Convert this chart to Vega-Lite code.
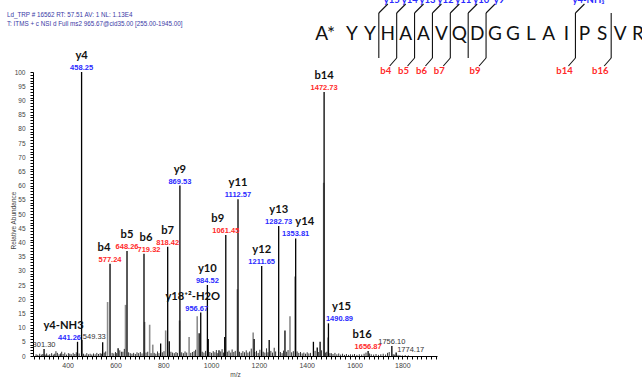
{
  "$schema": "https://vega.github.io/schema/vega-lite/v6.json",
  "width": 404,
  "height": 284,
  "autosize": "none",
  "padding": {"left": 33, "top": 72, "right": 205, "bottom": 25},
  "background": "white",
  "config": {"view": {"stroke": null}},
  "datasets": {
    "main": [
      {"mz": 301.3, "int": 2.5}, {"mz": 441.26, "int": 5.0}, {"mz": 458.25, "int": 100}, {"mz": 459.3, "int": 5.6},
      {"mz": 546.5, "int": 4.8}, {"mz": 577.24, "int": 32.5}, {"mz": 611, "int": 2.7}, {"mz": 648.26, "int": 37},
      {"mz": 719.32, "int": 36}, {"mz": 789, "int": 4.4}, {"mz": 818.42, "int": 38.5}, {"mz": 825, "int": 5.2},
      {"mz": 869.53, "int": 60}, {"mz": 950, "int": 8}, {"mz": 956.67, "int": 15.3}, {"mz": 984.52, "int": 25},
      {"mz": 988, "int": 6}, {"mz": 1033, "int": 2}, {"mz": 1057, "int": 6.7}, {"mz": 1061.45, "int": 42.6},
      {"mz": 1112.57, "int": 55.2}, {"mz": 1180, "int": 6}, {"mz": 1211.65, "int": 31.7}, {"mz": 1243, "int": 5.6},
      {"mz": 1282.73, "int": 45.8}, {"mz": 1309, "int": 9}, {"mz": 1353.81, "int": 41.4}, {"mz": 1428, "int": 5},
      {"mz": 1444, "int": 3}, {"mz": 1456, "int": 5}, {"mz": 1472.73, "int": 93}, {"mz": 1490.89, "int": 11.5},
      {"mz": 1656.87, "int": 1.8}, {"mz": 1756.1, "int": 3.5}, {"mz": 1774.17, "int": 1.2}
    ],
    "gray": [
      {"mz": 567, "int": 19}, {"mz": 642, "int": 18}, {"mz": 722, "int": 12}, {"mz": 743, "int": 11},
      {"mz": 756, "int": 4}, {"mz": 810, "int": 9}, {"mz": 868, "int": 12.5}, {"mz": 908, "int": 6.7},
      {"mz": 942, "int": 14}, {"mz": 1110, "int": 23.5}, {"mz": 1176, "int": 8.3}, {"mz": 1330, "int": 14},
      {"mz": 1351, "int": 28}, {"mz": 1471, "int": 61}, {"mz": 1489, "int": 6.5}
    ],
    "noise": [
      {"mz": 268, "int": 0.6}, {"mz": 275, "int": 0.4}, {"mz": 283, "int": 0.8}, {"mz": 290, "int": 0.5}, {"mz": 296, "int": 0.7},
      {"mz": 306, "int": 0.5}, {"mz": 312, "int": 0.9}, {"mz": 318, "int": 0.4}, {"mz": 325, "int": 0.6}, {"mz": 333, "int": 1.0},
      {"mz": 340, "int": 0.5}, {"mz": 346, "int": 0.8}, {"mz": 351, "int": 1.7}, {"mz": 357, "int": 1.1}, {"mz": 364, "int": 0.6},
      {"mz": 370, "int": 0.9}, {"mz": 375, "int": 1.5}, {"mz": 381, "int": 0.7}, {"mz": 388, "int": 1.2}, {"mz": 395, "int": 0.5},
      {"mz": 403, "int": 1.0}, {"mz": 409, "int": 0.8}, {"mz": 415, "int": 0.6}, {"mz": 423, "int": 1.1}, {"mz": 430, "int": 0.7},
      {"mz": 436, "int": 1.3}, {"mz": 448, "int": 0.9}, {"mz": 466, "int": 0.8}, {"mz": 473, "int": 0.5}, {"mz": 480, "int": 1.0},
      {"mz": 487, "int": 0.6}, {"mz": 494, "int": 0.8}, {"mz": 501, "int": 0.5}, {"mz": 508, "int": 0.9}, {"mz": 515, "int": 0.6},
      {"mz": 522, "int": 1.1}, {"mz": 529, "int": 0.7}, {"mz": 536, "int": 1.0}, {"mz": 541, "int": 0.8}, {"mz": 553, "int": 1.2},
      {"mz": 559, "int": 1.6}, {"mz": 586, "int": 1.1}, {"mz": 593, "int": 0.9}, {"mz": 600, "int": 1.4}, {"mz": 605, "int": 1.0},
      {"mz": 618, "int": 2.0}, {"mz": 625, "int": 1.5}, {"mz": 631, "int": 1.5}, {"mz": 637, "int": 2.5}, {"mz": 655, "int": 1.3},
      {"mz": 662, "int": 1.0}, {"mz": 669, "int": 0.8}, {"mz": 676, "int": 1.1}, {"mz": 683, "int": 0.7}, {"mz": 690, "int": 1.3},
      {"mz": 697, "int": 1.0}, {"mz": 704, "int": 1.4}, {"mz": 711, "int": 0.9}, {"mz": 728, "int": 1.2}, {"mz": 735, "int": 1.5},
      {"mz": 749, "int": 1.0}, {"mz": 762, "int": 1.1}, {"mz": 769, "int": 0.8}, {"mz": 776, "int": 1.6}, {"mz": 782, "int": 1.0},
      {"mz": 796, "int": 1.3}, {"mz": 803, "int": 1.7}, {"mz": 832, "int": 1.5}, {"mz": 839, "int": 1.2}, {"mz": 846, "int": 1.0},
      {"mz": 853, "int": 1.4}, {"mz": 859, "int": 1.1}, {"mz": 877, "int": 1.3}, {"mz": 884, "int": 1.0}, {"mz": 891, "int": 1.6},
      {"mz": 898, "int": 1.2}, {"mz": 915, "int": 1.1}, {"mz": 922, "int": 1.4}, {"mz": 929, "int": 1.7}, {"mz": 935, "int": 2.2},
      {"mz": 963, "int": 1.5}, {"mz": 970, "int": 1.2}, {"mz": 977, "int": 1.8}, {"mz": 995, "int": 1.4}, {"mz": 1002, "int": 1.1},
      {"mz": 1009, "int": 1.7}, {"mz": 1016, "int": 1.3}, {"mz": 1022, "int": 2.1}, {"mz": 1028, "int": 1.0}, {"mz": 1040, "int": 1.6},
      {"mz": 1046, "int": 2.4}, {"mz": 1052, "int": 1.2}, {"mz": 1068, "int": 1.5}, {"mz": 1075, "int": 1.9}, {"mz": 1082, "int": 1.2},
      {"mz": 1088, "int": 2.3}, {"mz": 1095, "int": 1.4}, {"mz": 1101, "int": 1.8}, {"mz": 1119, "int": 1.5}, {"mz": 1126, "int": 1.1},
      {"mz": 1133, "int": 1.7}, {"mz": 1140, "int": 1.3}, {"mz": 1147, "int": 2.0}, {"mz": 1154, "int": 1.2}, {"mz": 1161, "int": 1.6},
      {"mz": 1168, "int": 2.6}, {"mz": 1183, "int": 1.4}, {"mz": 1190, "int": 1.8}, {"mz": 1197, "int": 1.1}, {"mz": 1204, "int": 2.2},
      {"mz": 1218, "int": 1.5}, {"mz": 1225, "int": 1.2}, {"mz": 1232, "int": 2.7}, {"mz": 1238, "int": 1.3}, {"mz": 1250, "int": 1.8},
      {"mz": 1257, "int": 1.2}, {"mz": 1264, "int": 2.9}, {"mz": 1270, "int": 1.6}, {"mz": 1290, "int": 1.4}, {"mz": 1297, "int": 1.0},
      {"mz": 1303, "int": 1.9}, {"mz": 1316, "int": 1.5}, {"mz": 1322, "int": 2.1}, {"mz": 1337, "int": 1.3}, {"mz": 1344, "int": 1.7},
      {"mz": 1360, "int": 1.6}, {"mz": 1367, "int": 1.1}, {"mz": 1374, "int": 1.4}, {"mz": 1381, "int": 0.9}, {"mz": 1388, "int": 1.2},
      {"mz": 1395, "int": 0.8}, {"mz": 1402, "int": 1.3}, {"mz": 1409, "int": 0.9}, {"mz": 1416, "int": 1.1}, {"mz": 1435, "int": 1.8},
      {"mz": 1450, "int": 1.4}, {"mz": 1462, "int": 2.0}, {"mz": 1479, "int": 1.2}, {"mz": 1484, "int": 1.5}, {"mz": 1497, "int": 1.0},
      {"mz": 1503, "int": 1.0}, {"mz": 1510, "int": 0.7}, {"mz": 1518, "int": 1.1}, {"mz": 1526, "int": 0.6}, {"mz": 1534, "int": 0.9},
      {"mz": 1542, "int": 0.5}, {"mz": 1550, "int": 0.8}, {"mz": 1558, "int": 0.4}, {"mz": 1566, "int": 0.7}, {"mz": 1575, "int": 0.4},
      {"mz": 1583, "int": 0.6}, {"mz": 1592, "int": 0.5}, {"mz": 1600, "int": 0.7}, {"mz": 1610, "int": 0.4}, {"mz": 1620, "int": 0.6},
      {"mz": 1630, "int": 0.5}, {"mz": 1640, "int": 0.8}, {"mz": 1648, "int": 1.2}, {"mz": 1663, "int": 0.9}, {"mz": 1670, "int": 0.6},
      {"mz": 1680, "int": 0.5}, {"mz": 1690, "int": 0.7}, {"mz": 1700, "int": 0.4}, {"mz": 1710, "int": 0.6}, {"mz": 1720, "int": 0.8},
      {"mz": 1730, "int": 0.5}, {"mz": 1738, "int": 1.1}, {"mz": 1745, "int": 1.4}, {"mz": 1762, "int": 0.6}, {"mz": 1768, "int": 0.5},
      {"mz": 1782, "int": 0.4}, {"mz": 1790, "int": 0.3}, {"mz": 1800, "int": 0.2}, {"mz": 1812, "int": 0.3}, {"mz": 1825, "int": 0.2}
    ],
    "ions": [
      {"mz": 458.25, "int": 100, "ion": "y4", "lab": "458.25", "kind": "y"},
      {"mz": 441.26, "int": 5.0, "ion": "y4-NH3", "lab": "441.26", "kind": "y"},
      {"mz": 577.24, "int": 32.5, "ion": "b4", "lab": "577.24", "kind": "b"},
      {"mz": 648.26, "int": 37, "ion": "b5", "lab": "648.26", "kind": "b"},
      {"mz": 719.32, "int": 36, "ion": "b6", "lab": "719.32", "kind": "b"},
      {"mz": 818.42, "int": 38.5, "ion": "b7", "lab": "818.42", "kind": "b"},
      {"mz": 869.53, "int": 60, "ion": "y9", "lab": "869.53", "kind": "y"},
      {"mz": 956.67, "int": 15.3, "ion": "y18⁺²-H2O", "lab": "956.67", "kind": "y"},
      {"mz": 984.52, "int": 25, "ion": "y10", "lab": "984.52", "kind": "y"},
      {"mz": 1061.45, "int": 42.6, "ion": "b9", "lab": "1061.45", "kind": "b"},
      {"mz": 1112.57, "int": 55.2, "ion": "y11", "lab": "1112.57", "kind": "y"},
      {"mz": 1211.65, "int": 31.7, "ion": "y12", "lab": "1211.65", "kind": "y"},
      {"mz": 1282.73, "int": 45.8, "ion": "y13", "lab": "1282.73", "kind": "y"},
      {"mz": 1353.81, "int": 41.4, "ion": "y14", "lab": "1353.81", "kind": "y"},
      {"mz": 1472.73, "int": 93, "ion": "b14", "lab": "1472.73", "kind": "b"},
      {"mz": 1490.89, "int": 11.5, "ion": "y15", "lab": "1490.89", "kind": "y"},
      {"mz": 1656.87, "int": 1.8, "ion": "b16", "lab": "1656.87", "kind": "b"}
    ],
    "other": [
      {"mz": 301.3, "int": 2.5, "lab": "301.30", "side": "c"},
      {"mz": 1756.1, "int": 3.5, "lab": "1756.10", "side": "c"},
      {"mz": 459.3, "int": 5.6, "lab": "549.33", "side": "r"},
      {"mz": 1774.17, "int": 1.2, "lab": "1774.17", "side": "r"}
    ],
    "header": [
      {"t": "Ld_TRP # 16562  RT:  57.51  AV:  1  NL:  1.13E4\nT:  ITMS + c NSI d Full ms2 965.67@cid35.00 [255.00-1945.00]"}
    ],
    "residues": [
      {"i": 1, "aa": "A*"}, {"i": 2, "aa": "Y"}, {"i": 3, "aa": "Y"}, {"i": 4, "aa": "H"}, {"i": 5, "aa": "A"},
      {"i": 6, "aa": "A"}, {"i": 7, "aa": "V"}, {"i": 8, "aa": "Q"}, {"i": 9, "aa": "D"}, {"i": 10, "aa": "G"},
      {"i": 11, "aa": "G"}, {"i": 12, "aa": "L"}, {"i": 13, "aa": "A"}, {"i": 14, "aa": "I"}, {"i": 15, "aa": "P"},
      {"i": 16, "aa": "S"}, {"i": 17, "aa": "V"}, {"i": 18, "aa": "R"}
    ],
    "cuts": [
      {"cut": 3.5, "yion": "y15", "bion": ""},
      {"cut": 4.5, "yion": "y14", "bion": "b4"},
      {"cut": 5.5, "yion": "y13", "bion": "b5"},
      {"cut": 6.5, "yion": "y12", "bion": "b6"},
      {"cut": 7.5, "yion": "y11", "bion": "b7"},
      {"cut": 8.5, "yion": "y10", "bion": ""},
      {"cut": 9.5, "yion": "y9", "bion": "b9"},
      {"cut": 14.5, "yion": "y4-NH₃", "bion": "b14"},
      {"cut": 16.5, "yion": "", "bion": "b16"}
    ]
  },
  "layer": [
    {
      "encoding": {
        "x": {"type": "quantitative", "scale": {"domain": [255, 1945], "nice": false, "zero": false},
          "axis": {
            "values": [260,280,300,320,340,360,380,400,420,440,460,480,500,520,540,560,580,600,620,640,660,680,700,720,740,760,780,800,820,840,860,880,900,920,940,960,980,1000,1020,1040,1060,1080,1100,1120,1140,1160,1180,1200,1220,1240,1260,1280,1300,1320,1340,1360,1380,1400,1420,1440,1460,1480,1500,1520,1540,1560,1580,1600,1620,1640,1660,1680,1700,1720,1740,1760,1780,1800,1820,1840,1860,1880,1900,1920,1940],
            "format": "d",
            "labelExpr": "datum.value % 200 === 0 ? datum.label : ''",
            "tickSize": 3,
            "tickColor": "black", "domainColor": "black", "grid": false,
            "labelFont": "Liberation Sans", "labelFontSize": 7, "labelColor": "#444", "labelPadding": 2,
            "labelOverlap": false, "labelBound": false, "labelFlush": false,
            "title": "m/z", "titleFont": "Liberation Sans", "titleFontSize": 6.5, "titleFontWeight": "normal",
            "titleColor": "#444", "titlePadding": 3
          }},
        "y": {"type": "quantitative", "scale": {"domain": [0, 100], "nice": false},
          "axis": {
            "values": [0,1,2,3,4,5,6,7,8,9,10,11,12,13,14,15,16,17,18,19,20,21,22,23,24,25,26,27,28,29,30,31,32,33,34,35,36,37,38,39,40,41,42,43,44,45,46,47,48,49,50,51,52,53,54,55,56,57,58,59,60,61,62,63,64,65,66,67,68,69,70,71,72,73,74,75,76,77,78,79,80,81,82,83,84,85,86,87,88,89,90,91,92,93,94,95,96,97,98,99,100],
            "labelExpr": "datum.value % 5 === 0 ? datum.label : ''",
            "tickSize": 3,
            "tickColor": "black", "domainColor": "black", "grid": false,
            "labelFont": "Liberation Sans", "labelFontSize": 6.5, "labelColor": "#444", "labelPadding": 5,
            "labelOverlap": false, "labelBound": false, "labelFlush": false,
            "title": "Relative Abundance", "titleFont": "Liberation Sans", "titleFontSize": 6.5, "titleFontWeight": "normal",
            "titleColor": "#444", "titleX": -20, "titleY": 148, "titleBaseline": "middle", "titleAngle": -90
          }}
      },
      "layer": [
        {
          "data": {"name": "gray"},
          "mark": {"type": "rule", "color": "#8c8c8c", "strokeWidth": 1.6},
          "encoding": {"x": {"field": "mz"}, "y": {"field": "int"}, "y2": {"datum": 0}}
        },
        {
          "data": {"name": "noise"},
          "mark": {"type": "rule", "color": "#000", "strokeWidth": 0.8},
          "encoding": {"x": {"field": "mz"}, "y": {"field": "int"}, "y2": {"datum": 0}}
        },
        {
          "data": {"name": "main"},
          "mark": {"type": "rule", "color": "#000", "strokeWidth": 1.3},
          "encoding": {"x": {"field": "mz"}, "y": {"field": "int"}, "y2": {"datum": 0}}
        },
        {
          "data": {"name": "ions"},
          "transform": [{"filter": "indexof(['y4-NH3','b4','y18⁺²-H2O','b9','y14','y15','b16','b6'], datum.ion) < 0"}],
          "mark": {"type": "text", "font": "Lato", "fontWeight": "bold", "fontSize": 11.2, "color": "#111", "baseline": "alphabetic", "dy": -13},
          "encoding": {"x": {"field": "mz"}, "y": {"field": "int"}, "text": {"field": "ion"}}
        },
        {
          "data": {"name": "ions"},
          "transform": [{"filter": "datum.ion === 'y4-NH3'"}],
          "mark": {"type": "text", "font": "Lato", "fontWeight": "bold", "fontSize": 11.2, "color": "#111", "baseline": "alphabetic", "dy": -13, "dx": -14},
          "encoding": {"x": {"field": "mz"}, "y": {"field": "int"}, "text": {"field": "ion"}}
        },
        {
          "data": {"name": "ions"},
          "transform": [{"filter": "datum.ion === 'b4' || datum.ion === 'b16'"}],
          "mark": {"type": "text", "font": "Lato", "fontWeight": "bold", "fontSize": 11.2, "color": "#111", "baseline": "alphabetic", "dy": -13, "dx": -6},
          "encoding": {"x": {"field": "mz"}, "y": {"field": "int"}, "text": {"field": "ion"}}
        },
        {
          "data": {"name": "ions"},
          "transform": [{"filter": "datum.ion === 'y18⁺²-H2O' || datum.ion === 'b9'"}],
          "mark": {"type": "text", "font": "Lato", "fontWeight": "bold", "fontSize": 11.2, "color": "#111", "baseline": "alphabetic", "dy": -13, "dx": -8},
          "encoding": {"x": {"field": "mz"}, "y": {"field": "int"}, "text": {"field": "ion"}}
        },
        {
          "data": {"name": "ions"},
          "transform": [{"filter": "datum.ion === 'b6'"}],
          "mark": {"type": "text", "font": "Lato", "fontWeight": "bold", "fontSize": 11.2, "color": "#111", "baseline": "alphabetic", "dy": -13, "dx": 2},
          "encoding": {"x": {"field": "mz"}, "y": {"field": "int"}, "text": {"field": "ion"}}
        },
        {
          "data": {"name": "ions"},
          "transform": [{"filter": "datum.ion === 'y14'"}],
          "mark": {"type": "text", "font": "Lato", "fontWeight": "bold", "fontSize": 11.2, "color": "#111", "baseline": "alphabetic", "dy": -13, "dx": 9},
          "encoding": {"x": {"field": "mz"}, "y": {"field": "int"}, "text": {"field": "ion"}}
        },
        {
          "data": {"name": "ions"},
          "transform": [{"filter": "datum.ion === 'y15'"}],
          "mark": {"type": "text", "font": "Lato", "fontWeight": "bold", "fontSize": 11.2, "color": "#111", "baseline": "alphabetic", "dy": -13, "dx": 13},
          "encoding": {"x": {"field": "mz"}, "y": {"field": "int"}, "text": {"field": "ion"}}
        },
        {
          "data": {"name": "ions"},
          "transform": [{"filter": "indexof(['y4-NH3','y18⁺²-H2O','y15','b6'], datum.ion) < 0"}],
          "mark": {"type": "text", "font": "Liberation Sans", "fontWeight": "bold", "fontSize": 7.5, "baseline": "alphabetic", "dy": -2},
          "encoding": {
            "x": {"field": "mz"}, "y": {"field": "int"}, "text": {"field": "lab"},
            "color": {"condition": {"test": "datum.kind === 'y'", "value": "#2a2aff"}, "value": "#ff2a2a"}
          }
        },
        {
          "data": {"name": "ions"},
          "transform": [{"filter": "datum.ion === 'b6'"}],
          "mark": {"type": "text", "font": "Liberation Sans", "fontWeight": "bold", "fontSize": 7.5, "baseline": "alphabetic", "dy": -2, "dx": 5, "color": "#ff2a2a"},
          "encoding": {"x": {"field": "mz"}, "y": {"field": "int"}, "text": {"field": "lab"}}
        },
        {
          "data": {"name": "ions"},
          "transform": [{"filter": "datum.ion === 'y4-NH3'"}],
          "mark": {"type": "text", "font": "Liberation Sans", "fontWeight": "bold", "fontSize": 7.5, "baseline": "alphabetic", "dy": -2, "dx": -8, "color": "#2a2aff"},
          "encoding": {"x": {"field": "mz"}, "y": {"field": "int"}, "text": {"field": "lab"}}
        },
        {
          "data": {"name": "ions"},
          "transform": [{"filter": "datum.ion === 'y18⁺²-H2O'"}],
          "mark": {"type": "text", "font": "Liberation Sans", "fontWeight": "bold", "fontSize": 7.5, "baseline": "alphabetic", "dy": -2, "dx": -4, "color": "#2a2aff"},
          "encoding": {"x": {"field": "mz"}, "y": {"field": "int"}, "text": {"field": "lab"}}
        },
        {
          "data": {"name": "ions"},
          "transform": [{"filter": "datum.ion === 'y15'"}],
          "mark": {"type": "text", "font": "Liberation Sans", "fontWeight": "bold", "fontSize": 7.5, "baseline": "alphabetic", "dy": -2, "dx": 11, "color": "#2a2aff"},
          "encoding": {"x": {"field": "mz"}, "y": {"field": "int"}, "text": {"field": "lab"}}
        },
        {
          "data": {"name": "other"},
          "transform": [{"filter": "datum.side === 'c'"}],
          "mark": {"type": "text", "font": "Liberation Sans", "fontSize": 7.5, "color": "#333", "baseline": "alphabetic", "dy": -2},
          "encoding": {"x": {"field": "mz"}, "y": {"field": "int"}, "text": {"field": "lab"}}
        },
        {
          "data": {"name": "other"},
          "transform": [{"filter": "datum.side === 'r'"}],
          "mark": {"type": "text", "font": "Liberation Sans", "fontSize": 7.5, "color": "#333", "baseline": "alphabetic", "align": "left", "dy": -1, "dx": 1},
          "encoding": {"x": {"field": "mz"}, "y": {"field": "int"}, "text": {"field": "lab"}}
        },
        {
          "data": {"name": "header"},
          "mark": {"type": "text", "font": "Liberation Sans", "fontSize": 6.3, "color": "#3a3aa6", "align": "left", "baseline": "middle", "lineBreak": "\n", "lineHeight": 9},
          "encoding": {
            "x": {"datum": 146},
            "y": {"datum": 120},
            "text": {"field": "t"}
          }
        }
      ]
    },
    {
      "encoding": {
        "x": {"type": "quantitative", "scale": {"domain": [2, 18], "range": [319, 605], "nice": false, "zero": false}, "axis": null},
        "y": {"type": "quantitative", "scale": {"domain": [0, 72], "range": [0, -72], "nice": false, "zero": false}, "axis": null}
      },
      "layer": [
        {
          "data": {"name": "cuts"},
          "mark": {"type": "rule", "color": "#111", "strokeWidth": 1.1},
          "encoding": {"x": {"field": "cut"}, "y": {"datum": 59}, "y2": {"datum": 14}}
        },
        {
          "data": {"name": "cuts"},
          "transform": [{"filter": "datum.yion !== ''"}],
          "mark": {"type": "rule", "color": "#111", "strokeWidth": 1.1, "x2Offset": 9},
          "encoding": {"x": {"field": "cut"}, "x2": {"field": "cut"}, "y": {"datum": 59}, "y2": {"datum": 68}}
        },
        {
          "data": {"name": "cuts"},
          "transform": [{"filter": "datum.bion !== ''"}],
          "mark": {"type": "rule", "color": "#111", "strokeWidth": 1.1, "x2Offset": -7},
          "encoding": {"x": {"field": "cut"}, "x2": {"field": "cut"}, "y": {"datum": 14}, "y2": {"datum": 6}}
        },
        {
          "data": {"name": "cuts"},
          "transform": [{"filter": "datum.yion !== ''"}],
          "mark": {"type": "text", "font": "Lato", "fontWeight": "bold", "fontSize": 9.5, "color": "#2a2aff", "baseline": "alphabetic", "dx": 13},
          "encoding": {"x": {"field": "cut"}, "y": {"datum": 69}, "text": {"field": "yion"}}
        },
        {
          "data": {"name": "cuts"},
          "transform": [{"filter": "datum.bion !== ''"}],
          "mark": {"type": "text", "font": "Lato", "fontWeight": "bold", "fontSize": 9.5, "color": "#ff2a2a", "baseline": "top", "dx": -11},
          "encoding": {"x": {"field": "cut"}, "y": {"datum": 6}, "text": {"field": "bion"}}
        },
        {
          "data": {"name": "residues"},
          "transform": [{"filter": "datum.i > 1"}],
          "mark": {"type": "text", "font": "Lato", "fontSize": 19, "color": "#111", "baseline": "alphabetic"},
          "encoding": {"x": {"field": "i"}, "y": {"datum": 32}, "text": {"field": "aa"}}
        },
        {
          "data": {"name": "residues"},
          "transform": [{"filter": "datum.i === 1"}],
          "mark": {"type": "text", "font": "Lato", "fontSize": 19, "color": "#111", "baseline": "alphabetic", "dx": -9},
          "encoding": {"x": {"field": "i"}, "y": {"datum": 32}, "text": {"field": "aa"}}
        }
      ]
    }
  ],
  "resolve": {"scale": {"x": "independent", "y": "independent"}}
}
